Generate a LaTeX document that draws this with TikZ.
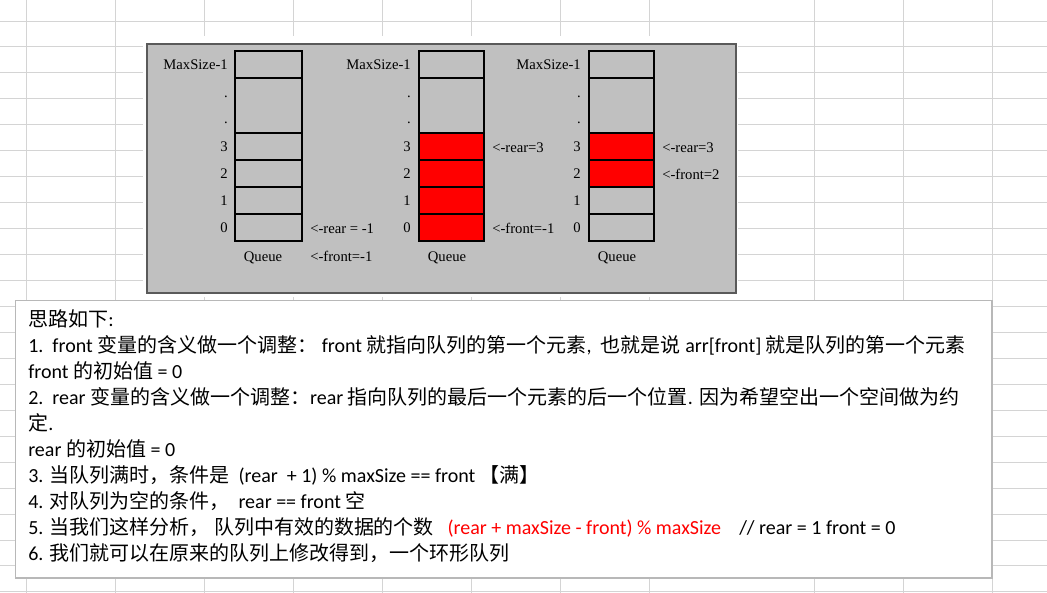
\documentclass[tikz,border=0pt]{standalone}
\usepackage{fontspec}
\setmainfont{Carlito}
\newfontfamily\zh{Noto Sans CJK SC}
\newfontfamily\tms{Liberation Serif}
\usetikzlibrary{positioning}
\definecolor{gridgray}{HTML}{D4D4D4}
\definecolor{panelgray}{HTML}{C0C0C0}
\definecolor{paneledge}{HTML}{5A5A5A}
\definecolor{boxedge}{HTML}{B8B8B8}
\definecolor{cellred}{HTML}{FF0000}

\begin{document}
\begin{tikzpicture}[x=0.75pt,y=-0.75pt]
  \tikzset{idx/.style={anchor=east,inner sep=0pt,font=\tms\fontsize{11}{13}\selectfont},
    ptr/.style={anchor=base west,inner sep=0pt,font=\tms\fontsize{11}{13}\selectfont},
    qlabel/.style={anchor=base,inner sep=0pt,font=\tms\fontsize{11}{13}\selectfont},
    note/.style={anchor=base west,inner sep=0pt,font=\fontsize{15}{18}\selectfont}}%

  \useasboundingbox (0,0) rectangle (1047,593);

  % sheet grid behind everything
  \foreach \gx in {26,115,204,293,382,471,560,649,814,903,992}
    \draw[gridgray,line width=0.75pt] (\gx,0) -- (\gx,593);
  \foreach \k in {0,...,22}
    \draw[gridgray,line width=0.75pt] (0,21+25.95*\k) -- (1047,21+25.95*\k);

  % pasted queue picture
  \fill[white] (143,36) rectangle (738,297);
  \draw[paneledge,line width=1.5pt,fill=panelgray] (147,44) rectangle (736,293);
  \fill[cellred] (419,133) rectangle (484,241);
  \fill[cellred] (589,133) rectangle (654,187);
  \foreach \xl/\xr in {235/302,419/484,589/654} {
    \draw[line width=0.8pt] (\xl,51) rectangle (\xr,241);
    \foreach \yy in {78,133,160,187,214}
      \draw[line width=0.8pt] (\xl,\yy) -- (\xr,\yy);
  }

  \foreach \q/\xe/\xm in {1/228/263,2/411/447,3/581/617} {
    \node[idx] (max\q) at (\xe,65) {MaxSize-1};
    \node[idx] (dota\q) at (\xe,97) {.};
    \node[idx] (dotb\q) at (\xe,123) {.};
    \foreach \i in {0,...,3}
      \node[idx] (idx\q\i) at (\xe,228-27*\i) {\i};
    \node[qlabel] (queue\q) at (\xm,261) {Queue};
  }

  \node[ptr] (rear1) at (310,233) {<-rear = -1};
  \node[ptr] (front1) at (310,261) {<-front=-1};
  \node[ptr] (rear2) at (492,152) {<-rear=3};
  \node[ptr] (front2) at (492,233) {<-front=-1};
  \node[ptr] (rear3) at (662,152) {<-rear=3};
  \node[ptr] (front3) at (662,179) {<-front=2};

  % notes cell
  \draw[boxedge,line width=0.9pt,fill=white] (15.5,300.5) rectangle (992,578);

  \node[note] (line1) at (28,326) {{\zh 思路如下}:};
  \node[note] (line2) at (28,352.1) {1.\ \ front {\zh 变量的含义做一个调整：} front {\zh 就指向队列的第一个元素}, \ {\zh 也就是说} arr[front] {\zh 就是队列的第一个元素}};
  \node[note] (line3) at (28,378.2) {front {\zh 的初始值} = 0};
  \node[note] (line4) at (28,404.3) {2.\ \ rear {\zh 变量的含义做一个调整：}rear {\zh 指向队列的最后一个元素的后一个位置}. {\zh 因为希望空出一个空间做为约}};
  \node[note] (line5) at (28,430.4) {{\zh 定}.};
  \node[note] (line6) at (28,456.5) {rear {\zh 的初始值} = 0};
  \node[note] (line7) at (28,482.6) {3. {\zh 当队列满时，条件是}\ \ (rear\ \ + 1) \% maxSize == front {\zh 【满】}};
  \node[note] (line8) at (28,508.7) {4. {\zh 对队列为空的条件，}\ \ rear == front {\zh 空}};
  \node[note] (line9) at (28,534.8) {5. {\zh 当我们这样分析，} {\zh 队列中有效的数据的个数}\ \ \ {\color{cellred}(rear + maxSize - front) \% maxSize}\ \ \ \ // rear = 1 front = 0};
  \node[note] (line10) at (28,560.9) {6. {\zh 我们就可以在原来的队列上修改得到，一个环形队列}};
\end{tikzpicture}
\end{document}
